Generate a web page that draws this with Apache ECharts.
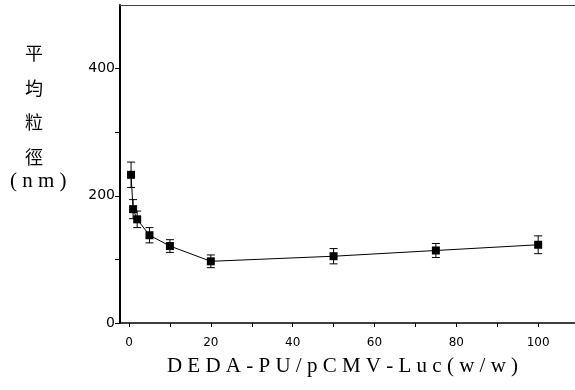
<!DOCTYPE html>
<html>
<head>
<meta charset="utf-8">
<script src="https://cdn.jsdelivr.net/npm/echarts@6/dist/echarts.min.js"></script>
<style>html,body{margin:0;padding:0;background:#fff}#c{width:575px;height:390px}</style>
</head>
<body>
<div id="c"></div>
<script>
var ratios = [0.5, 1, 2, 5, 10, 20, 50, 75, 100];
var sizes = [233, 179, 163, 138, 121, 97, 105, 114, 123];
var errors = [20, 15, 13, 12, 10, 10, 12, 11, 14];
var xTicks = [0, 10, 20, 30, 40, 50, 60, 70, 80, 90, 100];
var xTickLabels = [0, 20, 40, 60, 80, 100];
var yTicks = [0, 100, 200, 300, 400];
var yTickLabels = [0, 200, 400];
var xTitle = 'D E D A - P U / p C M V - L u c ( w / w )';
var yTitleChars = ['平', '均', '粒', '徑'];
var yTitleUnit = '( n m )';

var chart = echarts.init(document.getElementById('c'), null, {renderer: 'canvas'});
var pts = ratios.map(function (x, i) { return [x, sizes[i]]; });
var errData = ratios.map(function (x, i) { return [x, sizes[i] - errors[i], sizes[i] + errors[i]]; });

chart.setOption({
  animation: false,
  backgroundColor: '#fff',
  grid: {left: 120, right: 0, top: 5, bottom: 67},
  xAxis: [{
    type: 'value', min: -2.2, max: 109,
    axisLine: {onZero: false, lineStyle: {color: '#000', width: 1.5}},
    axisTick: {show: true, length: 4, customValues: xTicks, lineStyle: {color: '#000', width: 1}},
    axisLabel: {customValues: xTickLabels, color: '#000', fontFamily: 'DejaVu Sans', fontSize: 12, margin: 14},
    splitLine: {show: false},
    name: xTitle, nameLocation: 'middle', nameGap: 33,
    nameTextStyle: {fontFamily: 'Liberation Serif', fontSize: 21, color: '#000', padding: [0, 10, 0, 0]}
  }, {
    type: 'value', position: 'top', min: -2.2, max: 109,
    axisLine: {show: true, onZero: false, lineStyle: {color: '#444', width: 1}},
    axisTick: {show: false}, axisLabel: {show: false}, splitLine: {show: false}
  }],
  yAxis: {
    type: 'value', min: 0, max: 500,
    axisLine: {show: true, onZero: false, lineStyle: {color: '#000', width: 2}},
    axisTick: {show: true, length: 5, customValues: yTicks, lineStyle: {color: '#000', width: 1}},
    axisLabel: {customValues: yTickLabels, color: '#000', fontFamily: 'DejaVu Sans', fontSize: 14, margin: 5},
    splitLine: {show: false}
  },
  graphic: [{
    type: 'text', left: 25, top: 36,
    style: {text: yTitleChars.join('\n'), font: '18px "Noto Sans CJK TC"', fill: '#000', lineHeight: 34.5}
  }, {
    type: 'text', left: 10, top: 171,
    style: {text: yTitleUnit, font: '21px "Liberation Serif"', fill: '#000'}
  }],
  series: [{
    type: 'line', data: pts, symbol: 'rect', symbolSize: 8,
    lineStyle: {color: '#000', width: 1}, itemStyle: {color: '#000'}, z: 3
  }, {
    type: 'custom', data: errData, z: 2,
    renderItem: function (params, api) {
      var x = api.value(0);
      var lo = api.coord([x, api.value(1)]);
      var hi = api.coord([x, api.value(2)]);
      var w = 4;
      var st = {stroke: '#000', lineWidth: 1};
      return {type: 'group', children: [
        {type: 'line', shape: {x1: lo[0], y1: lo[1], x2: hi[0], y2: hi[1]}, style: st},
        {type: 'line', shape: {x1: lo[0] - w, y1: lo[1], x2: lo[0] + w, y2: lo[1]}, style: st},
        {type: 'line', shape: {x1: hi[0] - w, y1: hi[1], x2: hi[0] + w, y2: hi[1]}, style: st}
      ]};
    }
  }]
});
</script>
</body>
</html>
